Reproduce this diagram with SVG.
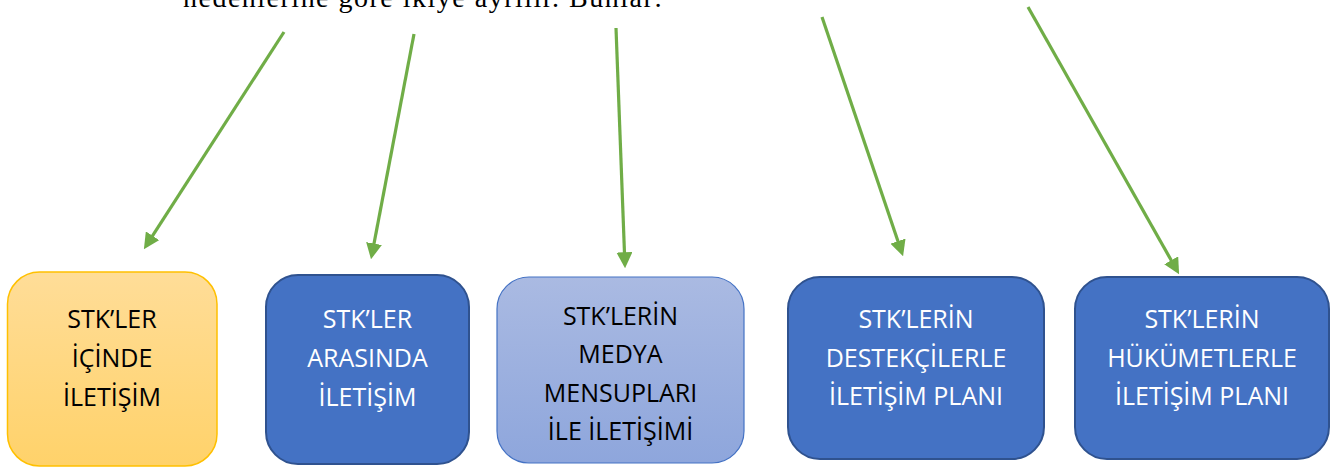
<svg xmlns="http://www.w3.org/2000/svg" width="1331" height="471" viewBox="0 0 1331 471">
  <style>
    .lead { font-family: "Liberation Serif", "Times New Roman", serif; font-size: 28px; fill: #000; }
    .lbl { font-family: "Open Sans", "Noto Sans", "Liberation Sans", sans-serif; font-size: 25px; text-anchor: middle; }
    .dark { fill: #000; }
    .light { fill: #fff; }
    .blue { fill: #4472C4; stroke: #2F528F; stroke-width: 2; }
    .gold { fill: url(#goldFill); stroke: #FFC000; stroke-width: 1.5; }
    .pale { fill: url(#paleFill); stroke: #4472C4; stroke-width: 1.2; }
    .conn { stroke: #70AD47; stroke-width: 3.2; fill: none; marker-end: url(#head); }
  </style>
  <defs>
    <linearGradient id="goldFill" x1="0" y1="0" x2="0" y2="1">
      <stop offset="0" stop-color="#FFDD98"/>
      <stop offset="1" stop-color="#FFD26A"/>
    </linearGradient>
    <linearGradient id="paleFill" x1="0" y1="0" x2="0" y2="1">
      <stop offset="0" stop-color="#AABAE2"/>
      <stop offset="1" stop-color="#8EA6DC"/>
    </linearGradient>
    <marker id="head" markerUnits="userSpaceOnUse" markerWidth="16" markerHeight="16" viewBox="0 0 15 15" refX="11" refY="7.5" orient="auto">
      <path d="M0,0 L15,7.5 L0,15 z" fill="#70AD47"/>
    </marker>
  </defs>

  <rect width="1331" height="471" fill="#fff"/>

  <text class="lead" x="183" y="7" textLength="479" lengthAdjust="spacing">nedenlerine göre ikiye ayrılır. Bunlar:</text>

  <g id="connectors">
    <line class="conn" x1="284" y1="32" x2="146.2" y2="245.6"/>
    <line class="conn" x1="414" y1="34" x2="371.8" y2="255.1"/>
    <line class="conn" x1="616" y1="28" x2="624.9" y2="264"/>
    <line class="conn" x1="822" y1="17" x2="901.7" y2="252.2"/>
    <line class="conn" x1="1028" y1="7" x2="1177" y2="270.5"/>
  </g>

  <g id="node-icinde">
    <rect class="gold" x="7.5" y="272" width="209.5" height="194" rx="32"/>
    <text class="lbl dark" x="112" y="328">STK’LER</text>
    <text class="lbl dark" x="112" y="367">İÇİNDE</text>
    <text class="lbl dark" x="112" y="406">İLETİŞİM</text>
  </g>

  <g id="node-arasinda">
    <rect class="blue" x="266" y="275" width="203" height="189" rx="32"/>
    <text class="lbl light" x="367.5" y="328">STK’LER</text>
    <text class="lbl light" x="367.5" y="367">ARASINDA</text>
    <text class="lbl light" x="367.5" y="406">İLETİŞİM</text>
  </g>

  <g id="node-medya">
    <rect class="pale" x="497" y="277" width="247" height="186" rx="32"/>
    <text class="lbl dark" x="620.5" y="325">STK’LERİN</text>
    <text class="lbl dark" x="620.5" y="363">MEDYA</text>
    <text class="lbl dark" x="620.5" y="402">MENSUPLARI</text>
    <text class="lbl dark" x="620.5" y="440">İLE İLETİŞİMİ</text>
  </g>

  <g id="node-destekciler">
    <rect class="blue" x="788" y="277" width="256" height="182" rx="32"/>
    <text class="lbl light" x="916" y="328">STK’LERİN</text>
    <text class="lbl light" x="916" y="367">DESTEKÇİLERLE</text>
    <text class="lbl light" x="916" y="405">İLETİŞİM PLANI</text>
  </g>

  <g id="node-hukumetler">
    <rect class="blue" x="1075" y="277" width="254" height="182" rx="32"/>
    <text class="lbl light" x="1202" y="328">STK’LERİN</text>
    <text class="lbl light" x="1202" y="367">HÜKÜMETLERLE</text>
    <text class="lbl light" x="1202" y="405">İLETİŞİM PLANI</text>
  </g>
</svg>
